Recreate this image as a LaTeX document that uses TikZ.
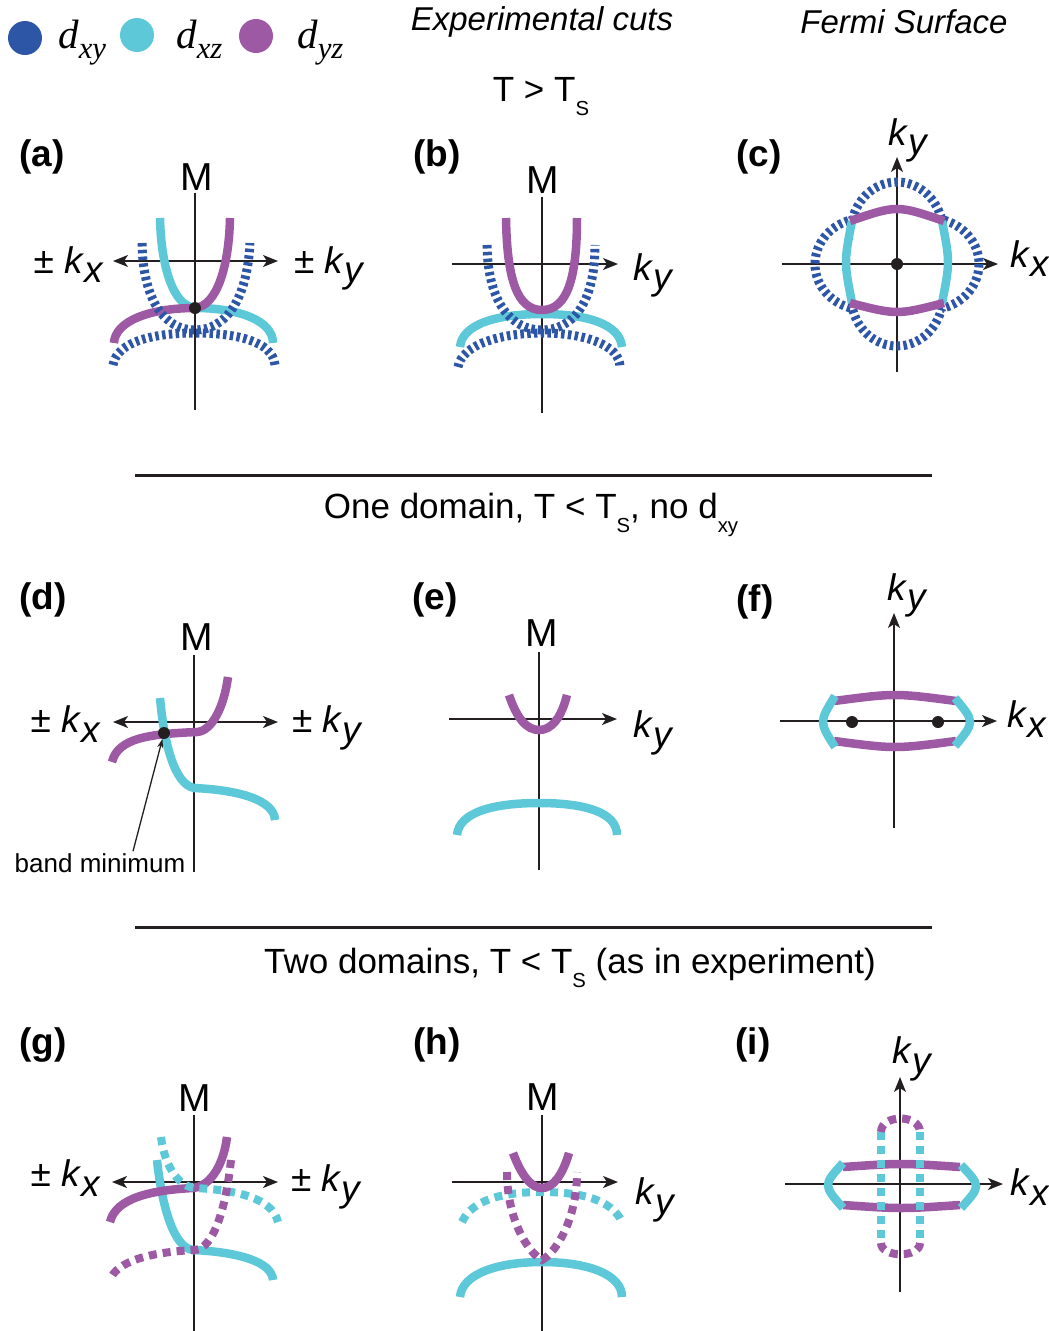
\documentclass[tikz,border=0pt]{standalone}
\usepackage{fontspec}
\setmainfont{Liberation Sans}
\newfontfamily\legendfont{Liberation Serif}
\usepackage{graphicx}
\usetikzlibrary{arrows.meta}
\definecolor{dxyblue}{RGB}{46,86,166}
\definecolor{dxzcyan}{RGB}{93,200,216}
\definecolor{dyzpurple}{RGB}{157,89,163}
\definecolor{inkblack}{RGB}{35,31,32}
\newcommand{\lowsub}[1]{\raisebox{-0.42em}{\scalebox{0.58}{#1}}}
\newcommand{\kvec}[1]{\textit{k}\raisebox{-0.27em}{\textit{#1}}}
\newcommand{\orb}[1]{\textit{d}\raisebox{-0.25em}{\scalebox{0.75}{\textit{#1}}}}
\tikzset{kaxis/.style={inkblack,line width=1.6pt}}
\tikzset{karrow/.style={kaxis,-{Stealth[length=15pt,width=12pt,inset=4pt]}}}
\tikzset{kboth/.style={kaxis,{Stealth[length=15pt,width=12pt,inset=4pt]}-{Stealth[length=15pt,width=12pt,inset=4pt]}}}
\tikzset{xyband/.style={dxyblue,line width=9pt,dash pattern=on 3.5pt off 3.3pt}}
\tikzset{xzband/.style={dxzcyan,line width=8.5pt}}
\tikzset{yzband/.style={dyzpurple,line width=8.5pt}}
\tikzset{xzdots/.style={dxzcyan,line width=8pt,dash pattern=on 8pt off 6pt}}
\tikzset{yzdots/.style={dyzpurple,line width=8pt,dash pattern=on 8pt off 6pt}}
\tikzset{bandpt/.style={circle,fill=inkblack,inner sep=0pt,minimum size=12pt}}
\tikzset{panel/.style={inner sep=0pt,font=\fontsize{37}{44}\selectfont\bfseries}}
\tikzset{mlabel/.style={inner sep=0pt,font=\fontsize{39}{46}\selectfont}}
\tikzset{klabel/.style={inner sep=0pt,font=\fontsize{37}{44}\selectfont}}
\tikzset{heading/.style={inner sep=0pt,font=\fontsize{35}{42}\selectfont}}
\tikzset{orblabel/.style={inner sep=0pt,anchor=base west,font=\legendfont\fontsize{41}{48}\selectfont}}

\begin{document}
\begin{tikzpicture}[x=1pt,y=-1pt]
\useasboundingbox (0,0) rectangle (1049,1331);
% legend and titles
\fill[dxyblue] (25,38) ellipse[x radius=17,y radius=17];
\fill[dxzcyan] (137,35) ellipse[x radius=17,y radius=17];
\fill[dyzpurple] (256,36) ellipse[x radius=17,y radius=17];
\node[orblabel] (lxy) at (58,48) {\orb{xy}};
\node[orblabel] (lxz) at (176,48) {\orb{xz}};
\node[orblabel] (lyz) at (297,48) {\orb{yz}};
\node[heading,font=\fontsize{33}{40}\selectfont\itshape] (expcuts) at (542,22) {Experimental cuts};
\node[heading,font=\fontsize{33}{40}\selectfont\itshape] (fermisurf) at (904,22) {Fermi Surface};
\node[heading,anchor=base] (tabove) at (541,101) {T > T\lowsub{S}};
\draw[inkblack,line width=3pt] (135,475) -- (932,475);
\node[heading,anchor=base] (onedom) at (531,518) {One domain, T < T\lowsub{S}, no d\lowsub{xy}};
\draw[inkblack,line width=3pt] (135,927) -- (932,927);
\node[heading,anchor=base] (twodom) at (570,973) {Two domains, T < T\lowsub{S} (as in experiment)};
%
\node[panel] (pa) at (42,157) {(a)};
\node[panel] (pb) at (437,157) {(b)};
\node[panel] (pc) at (759,157) {(c)};
\node[panel] (pd) at (43,600) {(d)};
\node[panel] (pe) at (435,600) {(e)};
\node[panel] (pf) at (755,602) {(f)};
\node[panel] (pg) at (43,1045) {(g)};
\node[panel] (ph) at (437,1045) {(h)};
\node[panel] (pi) at (753,1045) {(i)};
%
% (a)
\begin{scope}[shift={(195,261)}]
\draw[kaxis] (0,-68) -- (0,149);
\draw[kboth] (-82,0) -- (83,0);
\node[mlabel] (ma) at (2,-84) {M};
\node[klabel,anchor=base east] (akx) at (-91,12) {± \kvec{x}};
\node[klabel,anchor=base west] (aky) at (99,12) {± \kvec{y}};
\draw[xzband] (-35,-43) .. controls (-34,5) and (-22,45) .. (0,47) .. controls (45,47) and (78,60) .. (78,82);
\draw[yzband] (35,-43) .. controls (34,5) and (22,45) .. (0,47) .. controls (-45,47) and (-80,60) .. (-81,82);
\draw[xyband] (-53,-18) .. controls (-52,40) and (-30,69) .. (0,69) .. controls (30,69) and (52,40) .. (55,-18);
\draw[xyband] (-82,104) .. controls (-78,80) and (-40,72) .. (0,72) .. controls (40,72) and (78,80) .. (80,104);
\node[bandpt] (amin) at (0,47) {};
\end{scope}
%
% (b)
\begin{scope}[shift={(542,264)}]
\draw[kaxis] (0,-67) -- (0,149);
\draw[karrow] (-90,0) -- (76,0);
\node[mlabel] (mb) at (1,-84) {M};
\node[klabel,anchor=base west] (bky) at (91,16) {\kvec{y}};
\draw[xzband] (-82,83) .. controls (-80,60) and (-45,50) .. (0,50) .. controls (45,50) and (78,60) .. (80,83);
\draw[yzband] (-36,-46) .. controls (-35,15) and (-25,46) .. (0,46) .. controls (25,46) and (35,15) .. (35,-46);
\draw[xyband] (-55,-19) .. controls (-54,40) and (-30,66) .. (0,66) .. controls (30,66) and (53,40) .. (53,-19);
\draw[xyband] (-84,103) .. controls (-80,80) and (-40,69) .. (0,69) .. controls (40,69) and (78,80) .. (78,103);
\end{scope}
%
% (c)
\begin{scope}[shift={(897,264)}]
\draw[karrow] (0,108) -- (0,-107);
\draw[karrow] (-115,0) -- (101,0);
\node[klabel,anchor=base west] (cky) at (-9,-119) {\kvec{y}};
\node[klabel,anchor=base west] (ckx) at (113,3) {\kvec{x}};
\draw[xyband] plot[domain=0:360,samples=241] ({\x}:{63+19*abs(cos(2*\x))}) -- cycle;
\draw[xzband] (-45,-43) .. controls (-53,-2) .. (-45,39);
\draw[xzband] (45,-43) .. controls (53,-2) .. (45,39);
\draw[yzband] (-47,-43) .. controls (0,-59) .. (47,-43);
\draw[yzband] (-47,39) .. controls (0,51) .. (47,39);
\node[bandpt] (cgamma) at (0,0) {};
\end{scope}
%
% (d)
\begin{scope}[shift={(194,722)}]
\draw[kaxis] (0,-67) -- (0,150);
\draw[kboth] (-81,0) -- (84,0);
\node[mlabel] (md) at (3,-85) {M};
\node[klabel,anchor=base east] (dkx) at (-93,10) {± \kvec{x}};
\node[klabel,anchor=base west] (dky) at (98,10) {± \kvec{y}};
\draw[yzband] (-82,40) .. controls (-76,16) and (-45,12) .. (3,10) .. controls (18,9) and (30,-15) .. (34,-45);
\draw[xzband] (-34,-24) .. controls (-30,20) and (-20,62) .. (0,66) .. controls (45,68) and (80,78) .. (81,98);
\node[bandpt] (dmin) at (-30,11) {};
\node[inner sep=2pt,font=\fontsize{26}{30}\selectfont] (bandmin) at (-94,141) {band minimum};
\draw[inkblack,line width=1.3pt,-{Stealth[length=9pt,width=6pt]}] ([xshift=33pt]bandmin.north) -- (dmin);
\end{scope}
%
% (e)
\begin{scope}[shift={(539,719)}]
\draw[kaxis] (0,-67) -- (0,151);
\draw[karrow] (-90,0) -- (78,0);
\node[mlabel] (me) at (3,-86) {M};
\node[klabel,anchor=base west] (eky) at (94,18) {\kvec{y}};
\draw[yzband] (-30,-24) .. controls (-22,0) and (-12,11) .. (0,11) .. controls (12,11) and (22,0) .. (28,-24);
\draw[xzband] (-82,116) .. controls (-80,93) and (-45,84) .. (0,84) .. controls (45,84) and (78,93) .. (78,116);
\end{scope}
%
% (f)
\begin{scope}[shift={(894,721)}]
\draw[karrow] (0,107) -- (0,-108);
\draw[karrow] (-114,0) -- (103,0);
\node[klabel,anchor=base west] (fky) at (-7,-121) {\kvec{y}};
\node[klabel,anchor=base west] (fkx) at (113,6) {\kvec{x}};
\draw[yzband] (-60,-20) .. controls (1,-28) .. (62,-20);
\draw[yzband] (-60,20) .. controls (1,28) .. (62,20);
\draw[xzband] (-59,-25) .. controls (-75,1) .. (-59,26);
\draw[xzband] (61,-23) .. controls (81,1) .. (61,25);
\node[bandpt] (fleft) at (-42,1) {};
\node[bandpt] (fright) at (44,1) {};
\end{scope}
%
% (g)
\begin{scope}[shift={(194,1182)}]
\draw[kaxis] (0,-67) -- (0,149);
\draw[kboth] (-82,0) -- (84,0);
\node[mlabel] (mg) at (1,-84) {M};
\node[klabel,anchor=base east] (gkx) at (-93,4) {± \kvec{x}};
\node[klabel,anchor=base west] (gky) at (97,9) {± \kvec{y}};
\draw[xzband] (-37,-22) .. controls (-32,25) and (-20,66) .. (-1,68) .. controls (45,70) and (78,80) .. (79,98);
\draw[yzband] (-84,40) .. controls (-78,15) and (-40,8) .. (-1,6) .. controls (18,4) and (30,-20) .. (33,-45);
\draw[xzdots] (-33,-45) .. controls (-30,-20) and (-18,4) .. (1,6) .. controls (40,8) and (78,15) .. (84,40);
\draw[yzdots] (37,-22) .. controls (32,25) and (20,66) .. (1,68) .. controls (-45,70) and (-78,80) .. (-84,98);
\end{scope}
%
% (h)
\begin{scope}[shift={(542,1182)}]
\draw[kaxis] (0,-67) -- (0,149);
\draw[karrow] (-90,0) -- (76,0);
\node[mlabel] (mh) at (1,-85) {M};
\node[klabel,anchor=base west] (hky) at (93,22) {\kvec{y}};
\draw[xzband] (-82,115) .. controls (-80,92) and (-45,80) .. (0,80) .. controls (45,80) and (80,92) .. (80,115);
\draw[xzdots] (-80,40) .. controls (-70,18) and (-40,10) .. (0,10) .. controls (40,10) and (70,18) .. (80,40);
\draw[yzdots] (-35,-10) .. controls (-35,40) and (-12,72) .. (0,78) .. controls (12,72) and (35,40) .. (35,-10);
\draw[yzband] (-29,-29) .. controls (-20,-5) and (-10,6) .. (0,6) .. controls (10,6) and (20,-5) .. (27,-29);
\end{scope}
%
% (i)
\begin{scope}[shift={(900,1184)}]
\draw[karrow] (0,108) -- (0,-107);
\draw[karrow] (-115,0) -- (103,0);
\node[klabel,anchor=base west] (iky) at (-8,-121) {\kvec{y}};
\node[klabel,anchor=base west] (ikx) at (110,11) {\kvec{x}};
\draw[yzband] (-57,-17) .. controls (1,-21) .. (60,-17);
\draw[yzband] (-57,21) .. controls (1,25) .. (60,21);
\draw[xzband] (-57,-21) .. controls (-77,1) .. (-57,24);
\draw[xzband] (61,-19) .. controls (81,2) .. (61,24);
\draw[xzdots] (-19,-52) -- (-19,59);
\draw[xzdots] (20,-52) -- (20,59);
\draw[yzdots] (-19,-52) .. controls (-19,-70) and (20,-70) .. (20,-52);
\draw[yzdots] (-19,59) .. controls (-19,74) and (20,74) .. (20,59);
\end{scope}
\end{tikzpicture}
\end{document}
